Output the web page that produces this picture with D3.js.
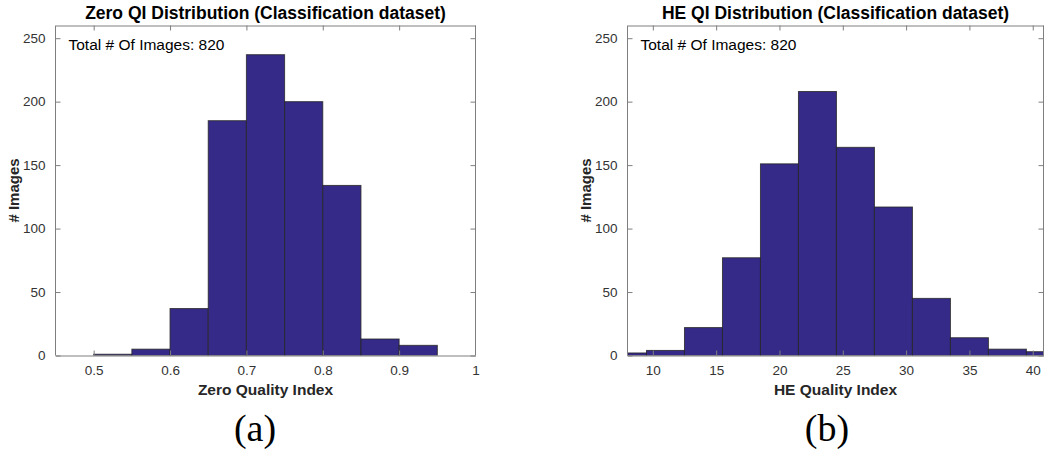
<!DOCTYPE html>
<html>
<head>
    <script src="https://cdn.jsdelivr.net/npm/d3@7"></script>
    <style>
        body { margin: 0; background: #fff; }
        svg { display: block; }
        .tick text { font-family: "Liberation Sans", Arial, sans-serif; font-size: 13.5px; fill: #333; }
    </style>
</head>
<body>
    <svg width="1045" height="455"></svg>
    <script>
        // Zero QI histogram (bin width 0.05)
        const zeroEdges = [0.50, 0.55, 0.60, 0.65, 0.70, 0.75, 0.80, 0.85, 0.90, 0.95];
        const zeroCounts = [1, 5, 37, 185, 237, 200, 134, 13, 8];
        const zeroXTicks = [0.5, 0.6, 0.7, 0.8, 0.9, 1];

        // HE QI histogram (bin width 3)
        const heEdges = [6.5, 9.5, 12.5, 15.5, 18.5, 21.5, 24.5, 27.5, 30.5, 33.5, 36.5, 39.5, 42.5];
        const heCounts = [2, 4, 22, 77, 151, 208, 164, 117, 45, 14, 5, 3];
        const heXTicks = [10, 15, 20, 25, 30, 35, 40];

        const yTicks = [0, 50, 100, 150, 200, 250];
        const totalLabel = "Total # Of Images: 820";

        const svg = d3.select("svg");
        const barFill = "#352a87";
        const axisColor = "#7f7f7f";
        const sans = "Liberation Sans, Arial, sans-serif";

        function drawPanel(opt) {
            const { left, right, top, bottom } = opt;
            const x = d3.scaleLinear().domain(opt.xDomain).range([left, right]);
            const y = d3.scaleLinear().domain([0, 260]).range([bottom, top]);

            const clipId = "clip-" + opt.id;
            svg.append("clipPath").attr("id", clipId)
                .append("rect")
                .attr("x", left).attr("y", top)
                .attr("width", right - left).attr("height", bottom - top);

            const bins = opt.counts.map((c, i) => ({ x0: opt.edges[i], x1: opt.edges[i + 1], c }));

            svg.append("g")
                .attr("clip-path", `url(#${clipId})`)
                .selectAll("rect")
                .data(bins)
                .join("rect")
                .attr("x", d => x(d.x0))
                .attr("y", d => y(d.c))
                .attr("width", d => x(d.x1) - x(d.x0))
                .attr("height", d => y(0) - y(d.c))
                .attr("fill", barFill)
                .attr("stroke", "#262626")
                .attr("stroke-opacity", 0.8)
                .attr("stroke-width", 1);

            // axes, ticks inside (MATLAB style)
            const tl = 5;
            const bottomAxis = svg.append("g")
                .attr("transform", `translate(0,${bottom})`)
                .call(d3.axisBottom(x).tickValues(opt.xTicks).tickSizeInner(-tl).tickSizeOuter(0).tickPadding(10)
                    .tickFormat(d => String(d)));
            const topAxis = svg.append("g")
                .attr("transform", `translate(0,${top})`)
                .call(d3.axisTop(x).tickValues(opt.xTicks).tickSizeInner(-tl).tickSizeOuter(0).tickFormat(""));
            const leftAxis = svg.append("g")
                .attr("transform", `translate(${left},0)`)
                .call(d3.axisLeft(y).tickValues(yTicks).tickSizeInner(-tl).tickSizeOuter(0).tickPadding(10));
            const rightAxis = svg.append("g")
                .attr("transform", `translate(${right},0)`)
                .call(d3.axisRight(y).tickValues(yTicks).tickSizeInner(-tl).tickSizeOuter(0).tickFormat(""));

            [bottomAxis, topAxis, leftAxis, rightAxis].forEach(a => {
                a.select(".domain").attr("stroke", axisColor);
                a.selectAll(".tick line").attr("stroke", axisColor);
            });
            // hide ticks that fall on the box corners
            topAxis.selectAll(".tick").filter(d => x(d) >= right - 1).remove();
            bottomAxis.selectAll(".tick line").filter(d => x(d) >= right - 1).remove();
            leftAxis.select(".domain").attr("d", `M0,${top}V${bottom}`);
            rightAxis.select(".domain").attr("d", `M0,${top}V${bottom}`);

            const cx = (left + right) / 2;
            svg.append("text")
                .attr("x", cx).attr("y", 19)
                .attr("text-anchor", "middle")
                .attr("font-family", sans)
                .attr("font-weight", "bold").attr("font-size", 17.5)
                .attr("fill", "#000")
                .text(opt.title);

            svg.append("text")
                .attr("x", left + 13).attr("y", 50)
                .attr("font-family", sans)
                .attr("font-size", 15.5).attr("fill", "#000")
                .text(totalLabel);

            svg.append("text")
                .attr("x", cx).attr("y", 395)
                .attr("text-anchor", "middle")
                .attr("font-family", sans)
                .attr("font-weight", "bold").attr("font-size", 15.5)
                .attr("fill", "#262626")
                .text(opt.xLabel);

            svg.append("text")
                .attr("transform", `translate(${left - 37},${(top + bottom) / 2}) rotate(-90)`)
                .attr("text-anchor", "middle")
                .attr("font-family", sans)
                .attr("font-weight", "bold").attr("font-size", 15)
                .attr("fill", "#262626")
                .text("# Images");

            svg.append("text")
                .attr("x", opt.capX).attr("y", 441)
                .attr("text-anchor", "middle")
                .attr("font-family", "Liberation Serif, Times New Roman, serif")
                .attr("font-size", 38).attr("fill", "#000")
                .text(opt.caption);
        }

        drawPanel({
            id: "a", left: 55.5, right: 475.5, top: 25.5, bottom: 355.5,
            xDomain: [0.45, 1.0], edges: zeroEdges, counts: zeroCounts, xTicks: zeroXTicks,
            title: "Zero QI Distribution (Classification dataset)",
            xLabel: "Zero Quality Index", caption: "(a)", capX: 255
        });
        drawPanel({
            id: "b", left: 627.5, right: 1043.5, top: 25.5, bottom: 355.5,
            xDomain: [8, 40.85], edges: heEdges, counts: heCounts, xTicks: heXTicks,
            title: "HE QI Distribution (Classification dataset)",
            xLabel: "HE Quality Index", caption: "(b)", capX: 827
        });
    </script>
</body>
</html>
